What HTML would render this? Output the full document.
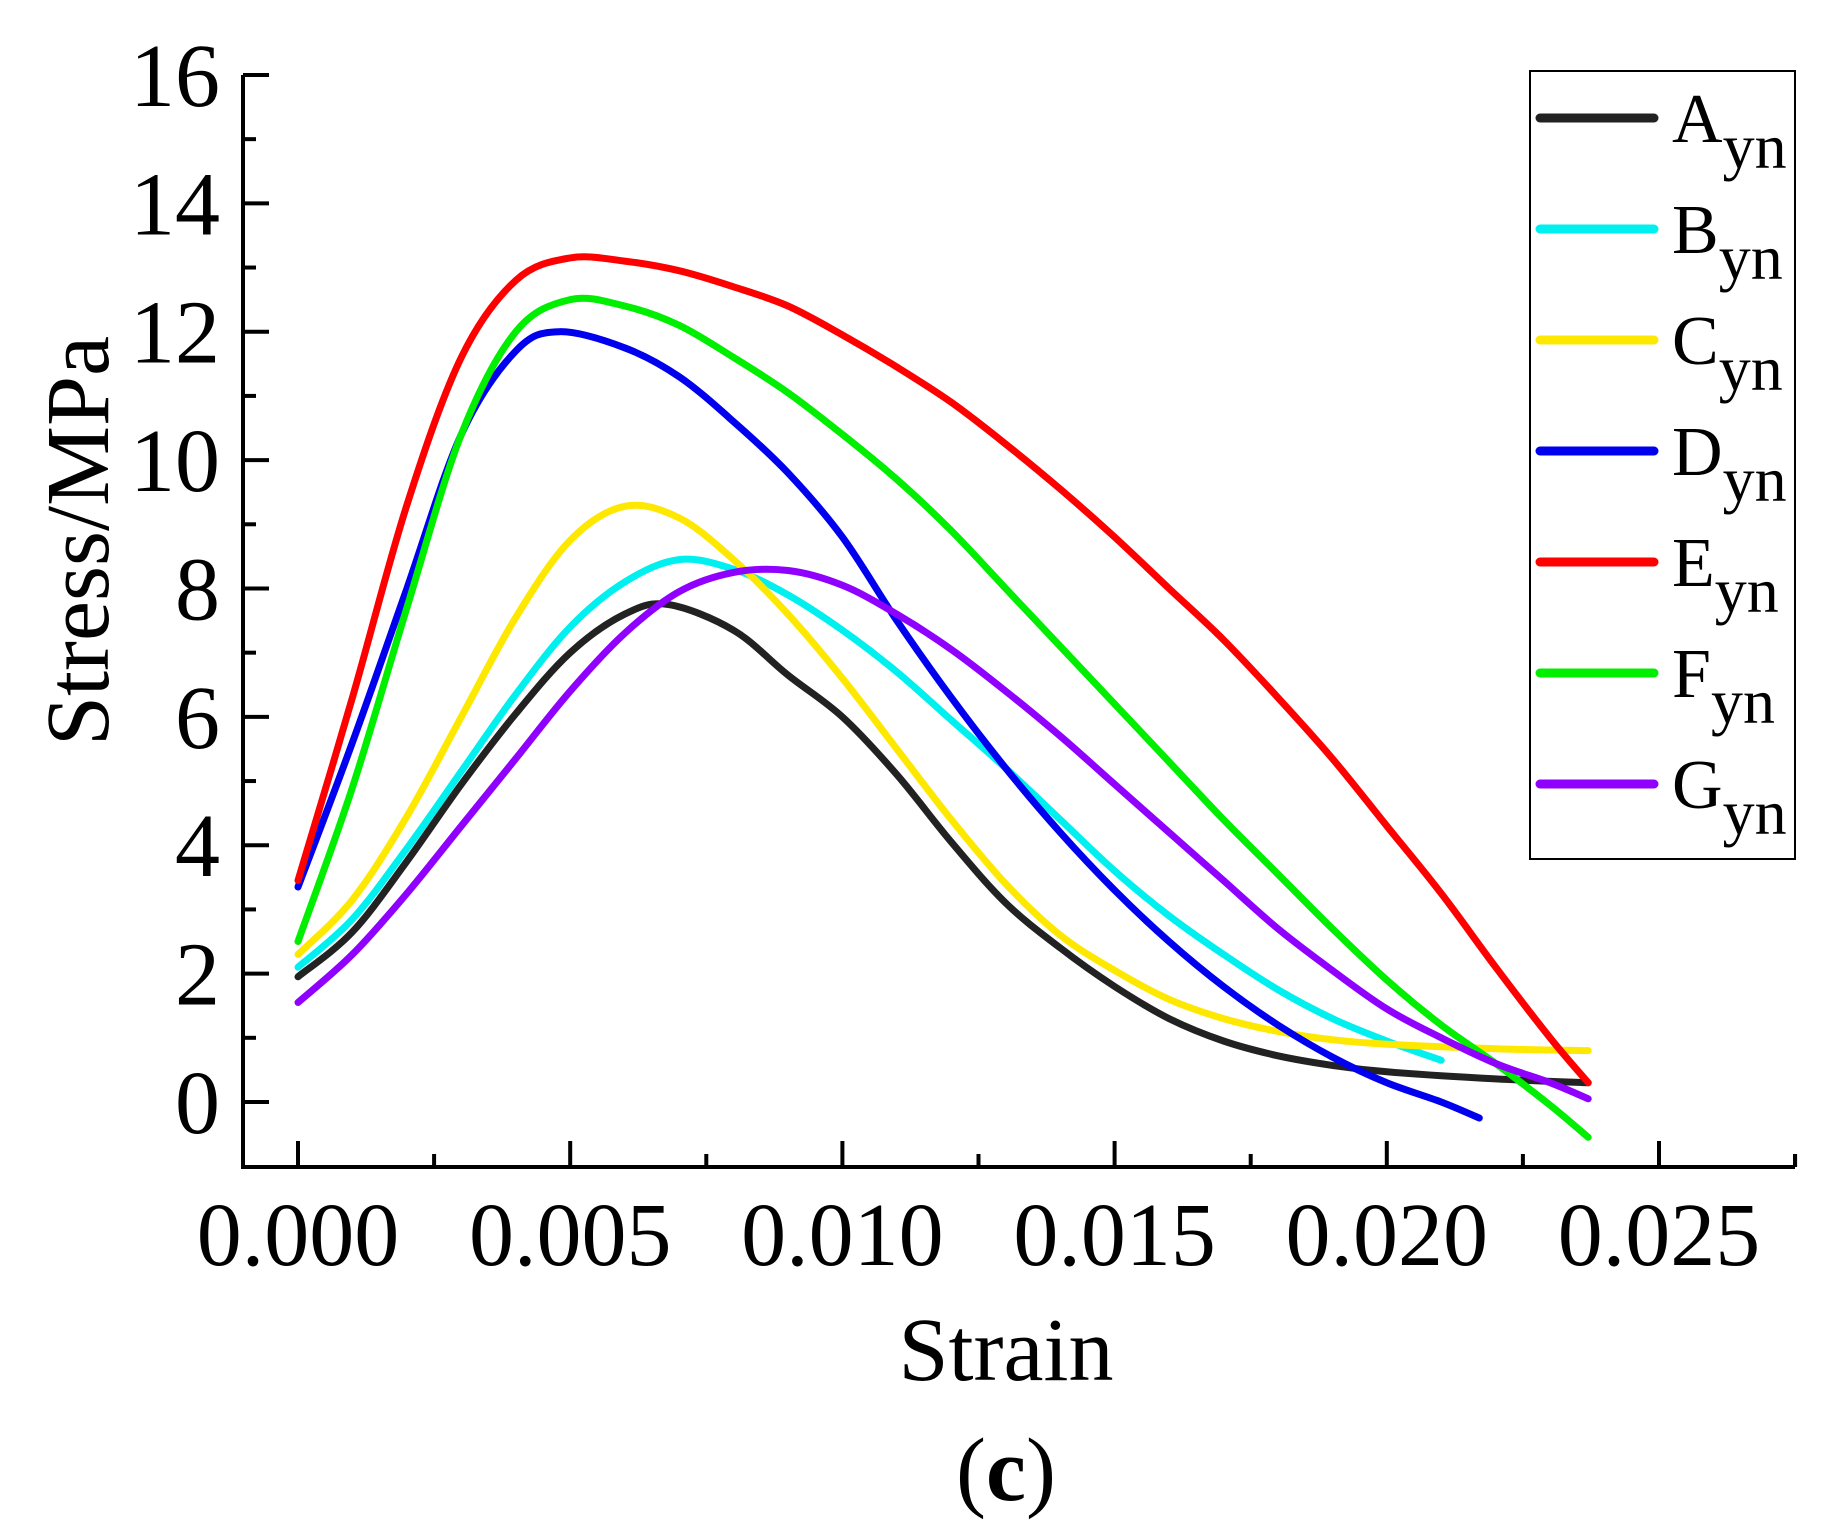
<!DOCTYPE html>
<html><head><meta charset="utf-8">
<style>
html,body{margin:0;padding:0;background:#fff;}
svg{display:block;}
text{font-family:"Liberation Serif","Times New Roman",serif;fill:#000;}
</style></head>
<body>
<svg id="s" width="1836" height="1528" viewBox="0 0 1836 1528" xmlns="http://www.w3.org/2000/svg">
<g id="curves" fill="none" stroke-width="7" stroke-linecap="round" stroke-linejoin="round"></g>
<g id="axes" stroke="#000" stroke-width="4" fill="none"></g>
<g id="labels" font-size="90"></g>
<text x="1006" y="1380" font-size="90" text-anchor="middle">Strain</text>
<text x="1006" y="1500" font-size="90" text-anchor="middle">(<tspan font-weight="bold">c</tspan>)</text>
<text transform="translate(108,541) rotate(-90)" font-size="90" text-anchor="middle">Stress/MPa</text>
<rect x="1530" y="71" width="265" height="788" fill="none" stroke="#000" stroke-width="2"/>
<g id="legend"></g>
</svg>
<script>
var NS="http://www.w3.org/2000/svg";
function X(s){return 298+s*54440;}
function Y(v){return 1102-64.19*v;}
function el(t,a,p){var e=document.createElementNS(NS,t);for(var k in a)e.setAttribute(k,a[k]);p.appendChild(e);return e;}
var data=[
["#222",[[0,1.95],[0.001,2.65],[0.002,3.75],[0.003,4.95],[0.004,6.05],[0.005,7.0],[0.006,7.6],[0.0068,7.75],[0.008,7.35],[0.009,6.65],[0.010,6.0],[0.011,5.1],[0.012,4.05],[0.013,3.1],[0.014,2.4],[0.015,1.8],[0.016,1.3],[0.017,0.95],[0.018,0.72],[0.019,0.57],[0.020,0.47],[0.022,0.36],[0.0237,0.3]]],
["#00f0f0",[[0,2.1],[0.001,2.85],[0.002,3.95],[0.003,5.15],[0.004,6.35],[0.005,7.4],[0.006,8.1],[0.007,8.45],[0.008,8.3],[0.009,7.9],[0.010,7.35],[0.011,6.7],[0.012,5.95],[0.013,5.2],[0.014,4.4],[0.015,3.6],[0.016,2.9],[0.017,2.3],[0.018,1.75],[0.019,1.3],[0.020,0.95],[0.021,0.65]]],
["#ffe800",[[0,2.3],[0.001,3.15],[0.002,4.45],[0.003,6.0],[0.004,7.55],[0.005,8.75],[0.006,9.28],[0.007,9.1],[0.008,8.45],[0.009,7.6],[0.010,6.6],[0.011,5.5],[0.012,4.4],[0.013,3.4],[0.014,2.6],[0.015,2.05],[0.016,1.6],[0.017,1.3],[0.018,1.1],[0.019,0.97],[0.020,0.9],[0.022,0.83],[0.0237,0.8]]],
["#0000ee",[[0,3.35],[0.001,5.6],[0.002,8.0],[0.003,10.4],[0.004,11.7],[0.0048,12.0],[0.006,11.75],[0.007,11.3],[0.008,10.6],[0.009,9.8],[0.010,8.8],[0.011,7.5],[0.012,6.3],[0.013,5.2],[0.014,4.2],[0.015,3.3],[0.016,2.5],[0.017,1.8],[0.018,1.2],[0.019,0.7],[0.020,0.3],[0.021,0.0],[0.0217,-0.25]]],
["#ff0000",[[0,3.45],[0.001,6.3],[0.002,9.3],[0.003,11.6],[0.004,12.8],[0.005,13.15],[0.006,13.1],[0.007,12.95],[0.008,12.7],[0.009,12.4],[0.010,11.95],[0.011,11.45],[0.012,10.9],[0.013,10.25],[0.014,9.55],[0.015,8.8],[0.016,8.0],[0.017,7.2],[0.018,6.3],[0.019,5.35],[0.020,4.3],[0.021,3.25],[0.022,2.1],[0.023,1.0],[0.0237,0.3]]],
["#00ee00",[[0,2.5],[0.001,4.9],[0.002,7.7],[0.003,10.4],[0.004,12.0],[0.005,12.5],[0.006,12.4],[0.007,12.1],[0.008,11.6],[0.009,11.05],[0.010,10.4],[0.011,9.7],[0.012,8.9],[0.013,8.0],[0.014,7.1],[0.015,6.2],[0.016,5.3],[0.017,4.4],[0.018,3.55],[0.019,2.7],[0.020,1.9],[0.021,1.2],[0.022,0.6],[0.023,-0.05],[0.0237,-0.55]]],
["#9000ff",[[0,1.55],[0.001,2.3],[0.002,3.25],[0.003,4.3],[0.004,5.35],[0.005,6.4],[0.006,7.3],[0.007,7.95],[0.008,8.25],[0.009,8.28],[0.010,8.05],[0.011,7.6],[0.012,7.05],[0.013,6.4],[0.014,5.7],[0.015,4.95],[0.016,4.2],[0.017,3.45],[0.018,2.7],[0.019,2.05],[0.020,1.45],[0.021,1.0],[0.022,0.6],[0.023,0.3],[0.0237,0.05]]]
];
var cg=document.getElementById("curves");
data.forEach(function(d){
 var p=d[1].map(function(q){return [X(q[0]),Y(q[1])];});
 var s="M"+p[0][0].toFixed(1)+","+p[0][1].toFixed(1);
 for(var i=0;i<p.length-1;i++){
  var p0=p[i-1]||p[i],p1=p[i],p2=p[i+1],p3=p[i+2]||p[i+1];
  var c1=[p1[0]+(p2[0]-p0[0])/6,p1[1]+(p2[1]-p0[1])/6];
  var c2=[p2[0]-(p3[0]-p1[0])/6,p2[1]-(p3[1]-p1[1])/6];
  s+="C"+c1[0].toFixed(1)+","+c1[1].toFixed(1)+" "+c2[0].toFixed(1)+","+c2[1].toFixed(1)+" "+p2[0].toFixed(1)+","+p2[1].toFixed(1);
 }
 el("path",{d:s,stroke:d[0]},cg);
});
var ax=document.getElementById("axes");
el("path",{d:"M243,75 V1167 H1795"},ax);
for(var v=0;v<=16;v++){
 var y=Y(v),L=(v%2==0)?26:13;
 el("line",{x1:243,y1:y,x2:243+L,y2:y},ax);
}
for(var k=0;k<=11;k++){
 var s=k*0.0025,x=X(s),L=(k%2==0)?26:13;
 el("line",{x1:x,y1:1167,x2:x,y2:1167-L},ax);
}
el("line",{x1:1795,y1:1167,x2:1795,y2:1154},ax);
var lg=document.getElementById("labels");
for(var v=0;v<=16;v+=2){
 var t=el("text",{x:220,y:Y(v)+31,"text-anchor":"end"},lg);t.textContent=v;
}
["0.000","0.005","0.010","0.015","0.020","0.025"].forEach(function(l,i){
 var t=el("text",{x:X(i*0.005),y:1265,"text-anchor":"middle"},lg);t.textContent=l;
});
var leg=document.getElementById("legend");
["A","B","C","D","E","F","G"].forEach(function(n,i){
 var y=118+i*111;
 el("line",{x1:1540,y1:y,x2:1654,y2:y,stroke:data[i][0],"stroke-width":9,"stroke-linecap":"round"},leg);
 var t=el("text",{x:1672,y:y+24,"font-size":70},leg);
 t.textContent=n;
 var ts=el("tspan",{dy:26,"font-size":64},t);ts.textContent="yn";
});
</script>
</body></html>
